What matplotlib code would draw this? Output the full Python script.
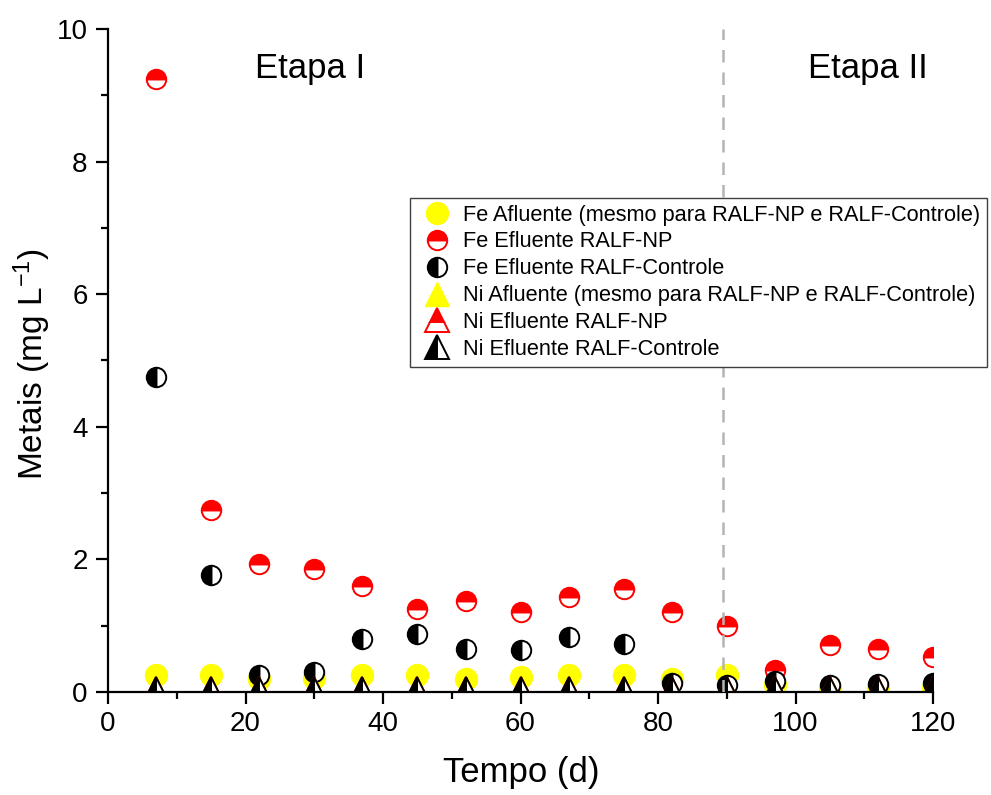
import matplotlib
matplotlib.use("Agg")
import matplotlib.pyplot as plt
from matplotlib.ticker import MultipleLocator

plt.rcParams['font.family'] = ['Liberation Sans', 'DejaVu Sans']
plt.rcParams['mathtext.fontset'] = 'custom'
plt.rcParams['mathtext.rm'] = 'Liberation Sans'
plt.rcParams['mathtext.it'] = 'Liberation Sans:italic'
plt.rcParams['mathtext.default'] = 'rm'

dias = [7, 15, 22, 30, 37, 45, 52, 60, 67, 75, 82, 90, 97, 105, 112, 120]

fe_afluente = [0.26, 0.26, 0.20, 0.21, 0.26, 0.26, 0.20, 0.22, 0.25, 0.26, 0.20, 0.25, 0.10, 0.06, 0.06, 0.06]
fe_np = [9.25, 2.75, 1.93, 1.85, 1.60, 1.25, 1.37, 1.20, 1.43, 1.55, 1.21, 1.00, 0.33, 0.71, 0.65, 0.52]
fe_controle = [4.75, 1.77, 0.26, 0.30, 0.80, 0.88, 0.65, 0.64, 0.83, 0.72, 0.14, 0.10, 0.16, 0.10, 0.12, 0.13]
ni_afluente = [0.05] * 16
ni_np = [0.05] * 16
ni_controle = [0.05] * 16

rotulos = [
    "Fe Afluente (mesmo para RALF-NP e RALF-Controle)",
    "Fe Efluente RALF-NP",
    "Fe Efluente RALF-Controle",
    "Ni Afluente (mesmo para RALF-NP e RALF-Controle)",
    "Ni Efluente RALF-NP",
    "Ni Efluente RALF-Controle",
]

fig = plt.figure(figsize=(9.91, 7.95), dpi=100)
ax = fig.add_axes([0.109, 0.1296, 0.8325, 0.834])

ms_c = 14
ms_t = 17.5
ax.plot(dias, fe_afluente, ls='none', marker='o', ms=ms_c + 1.8, mfc='#ffff00', mec='#ffff00',
        label=rotulos[0])
ax.plot(dias, fe_np, ls='none', marker='o', ms=ms_c, fillstyle='top', mfc='#ff0000',
        mfcalt='white', mec='#ff0000', mew=1.4, label=rotulos[1])
ax.plot(dias, fe_controle, ls='none', marker='o', ms=ms_c, fillstyle='left', mfc='black',
        mfcalt='white', mec='black', mew=1.4, label=rotulos[2])
ax.plot(dias, ni_afluente, ls='none', marker='^', ms=ms_t, mfc='#ffff00', mec='#ffff00',
        label=rotulos[3])
ax.plot(dias, ni_np, ls='none', marker='^', ms=ms_t, fillstyle='top', mfc='#ff0000',
        mfcalt='white', mec='#ff0000', mew=1.4, label=rotulos[4])
ax.plot(dias, ni_controle, ls='none', marker='^', ms=ms_t, fillstyle='left', mfc='black',
        mfcalt='white', mec='black', mew=1.4, label=rotulos[5])

ax.axvline(89.5, color='#b4b4b4', ls=(0, (5, 4)), lw=1.8, zorder=3)

ax.set_xlim(0, 120)
ax.set_ylim(0, 10)
ax.xaxis.set_major_locator(MultipleLocator(20))
ax.xaxis.set_minor_locator(MultipleLocator(10))
ax.yaxis.set_major_locator(MultipleLocator(2))
ax.yaxis.set_minor_locator(MultipleLocator(1))

for lado in ('top', 'right'):
    ax.spines[lado].set_visible(False)
for lado in ('left', 'bottom'):
    ax.spines[lado].set_linewidth(1.6)
ax.tick_params(which='major', direction='out', length=8.6, width=1.6, labelsize=20)
ax.tick_params(axis='x', which='major', pad=5)
ax.tick_params(axis='y', which='major', pad=6)
ax.tick_params(which='minor', direction='out', length=5, width=1.6)

ax.set_xlabel("Tempo (d)", fontsize=25)
ax.set_ylabel("Metais (mg L$^{-1}$)", fontsize=24)
ax.xaxis.set_label_coords(0.5006, -0.096)
ax.yaxis.set_label_coords(-0.067, 0.495)

ax.text(29.4, 9.4, "Etapa I", fontsize=25, ha='center', va='center')
ax.text(110.5, 9.4, "Etapa II", fontsize=25, ha='center', va='center')

leg = ax.legend(loc='upper left', bbox_to_anchor=(0.366, 0.745), fontsize=15.7,
                frameon=True, fancybox=False, edgecolor='#404040', framealpha=1,
                handletextpad=0.25, labelspacing=0.27, borderpad=0.3,
                handlelength=1.88, borderaxespad=0, markerscale=1.0)
leg.get_frame().set_linewidth(1.0)

fig.savefig("out.png", dpi=100)
